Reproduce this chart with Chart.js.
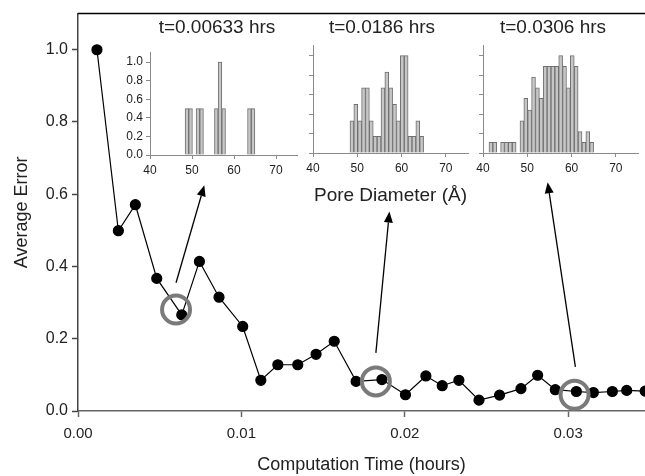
<!DOCTYPE html>
<html>
<head>
<meta charset="utf-8">
<script src="https://cdn.jsdelivr.net/npm/chart.js@4.4.0/dist/chart.umd.min.js"></script>
<style>
  body { margin: 0; background: #fff; }
  #wrap { position: relative; width: 645px; height: 476px; overflow: hidden; }
  #wrap canvas { position: absolute; }
</style>
</head>
<body>
<div id="wrap">
  <canvas id="main" width="645" height="476" style="left:0;top:0"></canvas>
  <canvas id="inset1" width="202" height="166" style="left:116px;top:14px"></canvas>
  <canvas id="inset2" width="198" height="193" style="left:283px;top:14px"></canvas>
  <canvas id="inset3" width="190" height="164" style="left:458px;top:14px"></canvas>
</div>
<script>
// main series: average error vs computation time
const times = [0.00116, 0.00247, 0.00351, 0.00482, 0.00635, 0.00743, 0.00863, 0.01008, 0.01119, 0.01223,
               0.01345, 0.01457, 0.01568, 0.01702, 0.0186, 0.02004, 0.02129, 0.02229, 0.02331, 0.02454,
               0.0258, 0.02711, 0.02813, 0.02921, 0.0305, 0.03154, 0.0327, 0.03358, 0.03471];
const errors = [1.0, 0.499, 0.571, 0.367, 0.266, 0.414, 0.315, 0.234, 0.085, 0.128,
                0.128, 0.157, 0.193, 0.082, 0.087, 0.045, 0.097, 0.070, 0.085, 0.030,
                0.044, 0.062, 0.099, 0.059, 0.054, 0.051, 0.054, 0.057, 0.055];

// grey rings around the snapshot points
const ringTimes = [0.0060, 0.01823, 0.03039];
const ringErrors = [0.281, 0.082, 0.045];

// arrows from rings up to the insets (data units)
const arrowFromX = [0.0060, 0.01823, 0.03044];
const arrowFromY = [0.355, 0.161, 0.122];
const arrowToX = [0.00773, 0.01906, 0.02874];
const arrowToY = [0.625, 0.552, 0.633];

const xTicks = [0, 0.01, 0.02, 0.03];
const yTicks = [0, 0.2, 0.4, 0.6, 0.8, 1.0];

// histogram bins (pore diameter, Å)
const binCenters = [41.788, 42.663, 43.538, 44.413, 45.288, 46.163, 47.038, 47.913, 48.788, 49.663,
                    50.538, 51.413, 52.288, 53.163, 54.038, 54.913, 55.788, 56.663, 57.538, 58.413,
                    59.288, 60.163, 61.038, 61.913, 62.788, 63.663, 64.538];
const hist1 = [0, 0, 0, 0, 0, 0, 0, 0, 0.5, 0.5,
               0, 0.5, 0.5, 0, 0, 0, 0.5, 1.0, 0.5, 0,
               0, 0, 0, 0, 0, 0.5, 0.5];
const hist2 = [0, 0, 0, 0, 0, 0, 0, 0, 0.33, 0.5,
               0.33, 0.67, 0.67, 0.33, 0.17, 0.17, 0.67, 0.83, 0.67, 0.5,
               0.33, 1.0, 1.0, 0.17, 0.17, 0.33, 0.17];
const hist3 = [0.11, 0.11, 0, 0.11, 0.11, 0.11, 0.11, 0, 0.33, 0.56,
               0.44, 0.78, 0.67, 0.56, 0.89, 0.89, 0.89, 0.89, 1.0, 0.89,
               0.67, 1.0, 0.89, 0.22, 0.11, 0.22, 0.11];
const histTicksX = [40, 50, 60, 70];

Chart.defaults.font.family = '"Liberation Sans", Arial, sans-serif';
Chart.defaults.color = '#222';

// Top frame line and arrows, drawn in data coordinates
const arrowPlugin = {
    id: 'arrows',
    afterDatasetsDraw(chart) {
        const ctx = chart.ctx;
        const area = chart.chartArea;
        const xs = chart.scales.x, ys = chart.scales.y;
        ctx.save();
        ctx.strokeStyle = '#000';
        ctx.lineWidth = 1.5;
        ctx.beginPath();
        ctx.moveTo(area.left, area.top);
        ctx.lineTo(area.right, area.top);
        ctx.stroke();

        ctx.fillStyle = '#000';
        ctx.lineWidth = 1.3;
        for (let i = 0; i < arrowFromX.length; i++) {
            const x0 = xs.getPixelForValue(arrowFromX[i]), y0 = ys.getPixelForValue(arrowFromY[i]);
            const x1 = xs.getPixelForValue(arrowToX[i]), y1 = ys.getPixelForValue(arrowToY[i]);
            const ang = Math.atan2(y1 - y0, x1 - x0);
            const len = 11, half = 4.5;
            const bx = x1 - len * Math.cos(ang), by = y1 - len * Math.sin(ang);
            ctx.beginPath();
            ctx.moveTo(x0, y0);
            ctx.lineTo(bx, by);
            ctx.stroke();
            ctx.beginPath();
            ctx.moveTo(x1, y1);
            ctx.lineTo(bx + half * Math.sin(ang), by - half * Math.cos(ang));
            ctx.lineTo(bx - half * Math.sin(ang), by + half * Math.cos(ang));
            ctx.closePath();
            ctx.fill();
        }
        ctx.restore();
    }
};

new Chart(document.getElementById('main'), {
    type: 'scatter',
    data: {
        datasets: [{
            data: ringTimes.map((t, i) => ({x: t, y: ringErrors[i]})),
            showLine: false,
            pointRadius: 14,
            pointBorderWidth: 4,
            pointBorderColor: '#7a7a7a',
            pointBackgroundColor: 'rgba(0,0,0,0)',
            order: -1
        }, {
            data: times.map((t, i) => ({x: t, y: errors[i]})),
            showLine: true,
            borderColor: '#000',
            borderWidth: 1.2,
            pointRadius: 5,
            pointBackgroundColor: '#000',
            pointBorderColor: '#000',
            order: 1
        }]
    },
    options: {
        responsive: false,
        animation: false,
        events: [],
        layout: {autoPadding: false, padding: {top: 13, left: 0, right: 0, bottom: 0}},
        plugins: {legend: {display: false}, tooltip: {enabled: false}},
        scales: {
            x: {
                type: 'linear', min: 0, max: 0.0347,
                afterBuildTicks: s => { s.ticks = xTicks.map(v => ({value: v})); },
                afterFit: s => { s.height = 65; },
                ticks: {callback: v => v.toFixed(2), font: {size: 15}, padding: 8},
                grid: {drawOnChartArea: false, tickLength: 6, tickColor: '#666', tickWidth: 1.5},
                border: {color: '#666', width: 1.5},
                title: {display: true, text: 'Computation Time (hours)', font: {size: 18}, padding: {top: 0, bottom: 0}}
            },
            y: {
                type: 'linear', min: 0, max: 1.1,
                afterBuildTicks: s => { s.ticks = yTicks.map(v => ({value: v})); },
                afterFit: s => { s.width = 78; },
                ticks: {callback: v => v.toFixed(1), font: {size: 16}, padding: 4},
                grid: {drawOnChartArea: false, tickLength: 6, tickColor: '#444', tickWidth: 1.5},
                border: {color: '#444', width: 1.5},
                title: {display: true, text: 'Average Error', font: {size: 18}, padding: {top: 11, bottom: 0}}
            }
        }
    },
    plugins: [arrowPlugin]
});

// Small pore-diameter histograms
function makeInset(id, title, values, cfg) {
    return new Chart(document.getElementById(id), {
        type: 'bar',
        data: {
            datasets: [{
                data: binCenters.map((c, i) => ({x: c, y: values[i]})),
                backgroundColor: '#c6c6c6',
                borderColor: '#707070',
                borderWidth: 1,
                barPercentage: 1,
                categoryPercentage: 1
            }]
        },
        options: {
            responsive: false,
            animation: false,
            events: [],
            layout: {autoPadding: false, padding: 0},
            plugins: {
                legend: {display: false},
                tooltip: {enabled: false},
                title: {display: true, text: title, font: {size: 19, weight: 'normal'}, color: '#222',
                        padding: {top: 2, bottom: cfg.titleGap}}
            },
            scales: {
                x: {
                    type: 'linear', min: 40, max: 75, offset: false,
                    afterBuildTicks: s => { s.ticks = histTicksX.map(v => ({value: v})); },
                    afterFit: s => { s.height = cfg.xHeight; },
                    ticks: {font: {size: 12}, padding: 4, maxRotation: 0},
                    grid: {drawOnChartArea: false, offset: false, tickLength: 4, tickColor: '#8a8a8a'},
                    border: {color: '#8a8a8a'},
                    title: {display: !!cfg.xTitle, text: cfg.xTitle || '', font: {size: 19}, padding: {top: 0, bottom: 0}}
                },
                y: {
                    type: 'linear', min: 0, max: 1.1,
                    afterBuildTicks: s => { s.ticks = yTicks.map(v => ({value: v})); },
                    afterFit: s => { s.width = cfg.left; },
                    ticks: {display: cfg.yLabels, callback: v => v.toFixed(1), font: {size: 12}, padding: 3},
                    grid: {drawOnChartArea: false, tickLength: 4, tickColor: '#8a8a8a'},
                    border: {color: '#8a8a8a'}
                },
                yRight: {
                    type: 'linear', position: 'right',
                    afterFit: s => { s.width = cfg.right; },
                    ticks: {display: false},
                    grid: {display: false},
                    border: {display: false}
                }
            }
        }
    });
}

makeInset('inset1', 't=0.00633 hrs', hist1, {left: 34, right: 21, titleGap: 14, xHeight: 25, yLabels: true});
makeInset('inset2', 't=0.0186 hrs', hist2, {left: 30, right: 13, titleGap: 7, xHeight: 54, yLabels: false, xTitle: 'Pore Diameter (Å)'});
makeInset('inset3', 't=0.0306 hrs', hist3, {left: 25, right: 10, titleGap: 7, xHeight: 25, yLabels: false});
</script>
</body>
</html>
